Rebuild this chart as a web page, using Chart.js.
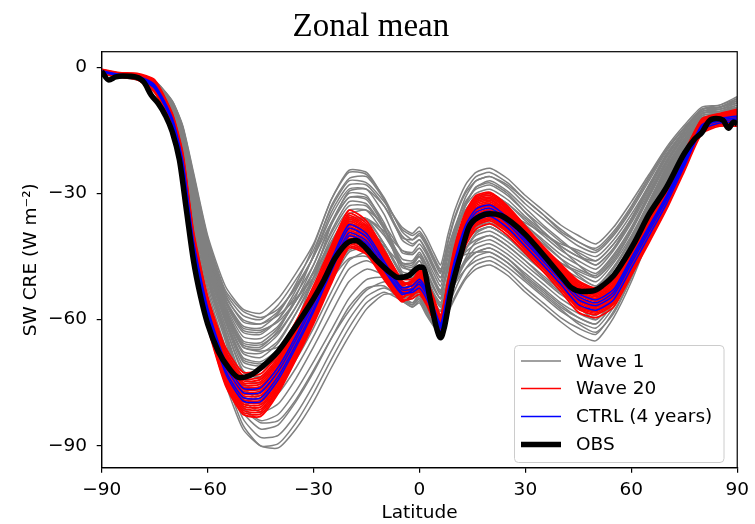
<!DOCTYPE html>
<html><head><meta charset="utf-8">
<script src="https://cdn.jsdelivr.net/npm/chart.js@4/dist/chart.umd.min.js"></script>
<style>html,body{margin:0;padding:0;background:#fff;}#wrap{width:755px;height:524px;}</style>
</head><body><div id="wrap"><canvas id="c" width="755" height="524"></canvas></div>
<script>
// ---------- data ----------
const lat = [-90,-85,-80,-75,-70,-67,-64,-60,-55,-50,-45,-40,-35,-30,-25,-20,-15,-10,-5,-2,0,2,4,6,8,10,13,16,20,25,30,35,40,45,50,55,60,65,70,75,80,85,90];

const wave1 = [
[-1.0,-1.8,-2.0,-3.2,-8,-14,-25,-40,-52,-57.5,-58.5,-55,-49,-42,-31.5,-25,-25.5,-31,-39,-41,-40,-42.5,-46,-49,-42,-36,-30,-27,-26,-28.5,-32.5,-36,-39.5,-42.5,-44,-40,-34,-27,-20,-14.5,-10,-9.5,-8],
[-1.0,-1.8,-2.1,-3.3,-8.2,-14.5,-26,-41,-53.5,-59,-60,-56.5,-50.5,-43.5,-33.5,-27,-27.5,-32,-38,-39.5,-38,-40.5,-44,-47,-40,-34,-28,-25,-24,-26.5,-30.5,-34,-37.5,-40,-42,-38,-32,-25.5,-19,-13.8,-9.5,-9,-7],
[-1.0,-1.8,-2.1,-3.3,-8.4,-14.7,-26.5,-41.7,-54,-60.5,-61,-58,-52,-45,-35.5,-29,-29,-35,-44,-44.5,-43,-45.5,-49,-52,-45.5,-40,-34,-31,-30,-32.5,-36.5,-40,-43.5,-46,-48,-43.5,-37,-29.5,-22,-16,-11,-10.5,-9],
[-1.1,-1.9,-2.2,-3.4,-8.5,-15,-27,-42.5,-55,-61.5,-62,-58.5,-51.5,-42.5,-31.5,-24.5,-25,-31.5,-41,-42.5,-41,-43.5,-47,-50,-43.5,-38,-32,-29,-28,-30.5,-34.5,-38,-41.5,-44,-46,-42,-36,-28.5,-21,-15.3,-10.5,-10,-8.5],
[-1.1,-1.9,-2.2,-3.5,-8.6,-15.2,-27.5,-43,-55.5,-62.5,-63,-60,-54,-47,-37.5,-31,-31,-37,-46.5,-47,-45,-47.5,-51,-54,-48,-43,-37,-34,-33,-35.5,-39.5,-43,-46.5,-49,-51,-46.5,-40,-32,-23.5,-17,-11.5,-11,-10],
[-1.2,-1.9,-2.3,-3.5,-8.7,-15.5,-28,-43.5,-56,-63,-63.5,-60,-53,-45,-34.5,-28,-28,-33,-40.5,-41,-39.5,-42,-45.5,-48.5,-41.5,-35.5,-29.5,-26,-25,-27.5,-31.5,-35,-39,-41.5,-43.5,-39.5,-33.5,-26.5,-19.5,-14.3,-10,-9.5,-7.5],
[-1.2,-1.9,-2.3,-3.6,-8.8,-15.6,-28.5,-44,-56.5,-64,-64.5,-61.5,-55.5,-48.5,-39.5,-33,-33,-38.5,-45.5,-46,-44,-47,-50.5,-53,-47.5,-43,-38.5,-36,-35,-37.5,-41.5,-45,-48.5,-51,-53,-48,-41,-32.5,-24,-17.5,-12,-11.5,-10.5],
[-1.2,-1.9,-2.3,-3.6,-9,-16,-29,-44.5,-57,-65,-65.5,-62,-55.5,-47,-37,-30,-30.5,-38,-48.5,-49,-47,-50,-53.5,-56,-50.5,-46,-41.5,-39,-38,-40.5,-44,-47.5,-51,-53.5,-55,-50,-43,-34,-25.5,-18.5,-12.5,-12,-11],
[-1.2,-2,-2.3,-3.7,-9.1,-16.2,-29.5,-45,-57.5,-65.5,-66,-63,-57,-50,-41.5,-35,-34,-37.5,-43.5,-44,-42,-44.5,-48,-51,-44.5,-39,-33,-30,-29,-31.5,-35.5,-39,-42.5,-45,-47,-43,-36.5,-29,-21.5,-15.5,-10.5,-10,-9],
[-1.2,-2,-2.4,-3.7,-9.2,-16.4,-30,-45.5,-58,-66.5,-67,-63.5,-57,-48.5,-39,-32,-32.5,-38.5,-47.5,-48,-46,-49,-52.5,-55,-51,-47.5,-44,-42,-41,-43.5,-47,-50.5,-54,-56.5,-58,-53,-45,-36,-26.5,-19,-13,-12.5,-11.5],
[-1.3,-2,-2.4,-3.8,-9.3,-16.6,-30.5,-46,-58.5,-67.5,-68,-65,-58.5,-51,-42,-36,-36,-42,-49.5,-50,-48,-51,-54.5,-57,-51,-46,-40,-37,-36,-38.5,-42.5,-46,-49.5,-52,-54,-49.5,-42,-33.5,-25,-18,-12,-11.5,-10],
[-1.3,-2,-2.4,-3.8,-9.4,-16.8,-31,-46.5,-59,-68,-69,-65.5,-58.5,-50,-40.5,-34,-34,-39.5,-46.5,-46.5,-44.5,-47,-50.5,-53.5,-47,-41.5,-35.5,-32,-31,-33.5,-37.5,-41,-44.5,-47,-49,-44.5,-38,-30,-22.5,-16.5,-11,-10.5,-9.5],
[-1.3,-2,-2.5,-3.9,-9.6,-17,-31.5,-47,-59.5,-69,-70,-67,-60.5,-53,-44,-38,-37.5,-43,-51,-51,-49,-52,-55.5,-58,-53.5,-50,-46,-44,-43,-45.5,-49,-52.5,-56,-58.5,-60,-55,-47,-37.5,-27.5,-20,-13.5,-13,-12],
[-1.3,-2.1,-2.5,-4,-9.7,-17.2,-32,-47.5,-60,-70,-71,-68,-61.5,-53.5,-44,-37,-36.5,-42,-49.5,-49.5,-47.5,-50.5,-54,-56.5,-50,-44.5,-38.5,-35,-34,-36.5,-40.5,-44,-47.5,-50,-52,-47.5,-40.5,-32,-24,-17.3,-11.5,-11,-10],
[-1.3,-2.1,-2.5,-4,-9.8,-17.5,-32.5,-48,-60.5,-71,-72,-69,-63,-55.5,-46.5,-40,-39.5,-45,-52,-52,-50,-53,-56.5,-59,-55,-51.5,-48,-46,-45,-47.5,-51,-54.5,-58,-60.5,-62,-57,-49,-39,-29,-21,-14,-13.5,-13],
[-1.4,-2.1,-2.5,-4.1,-10,-17.8,-33,-49,-61.5,-72.5,-73.5,-70.5,-64,-55.5,-46,-39,-39,-45.5,-53,-53,-51,-54,-57.5,-60,-54.5,-49.5,-43.5,-40,-39,-41.5,-45,-48.5,-52,-54.5,-56.5,-51.5,-44,-35,-26,-18.5,-12.5,-12,-11],
[-1.4,-2.1,-2.6,-4.2,-10.2,-18.2,-33.5,-49.5,-62.5,-74,-75,-72,-65.5,-58,-49,-42,-41.5,-47.5,-54.5,-54.5,-52.5,-55.5,-58.5,-61,-54.5,-48.5,-42,-38,-37,-39,-41.5,-44,-46.5,-48.5,-50,-45.5,-39,-31,-23,-16.5,-11,-10.5,-10],
[-1.4,-2.2,-2.6,-4.2,-10.4,-18.5,-34,-50,-63,-75.5,-76.5,-73.5,-67,-59.5,-51,-44,-43,-46,-51,-51,-49,-52,-55.5,-58,-50.5,-44,-37.5,-34,-33,-35,-37,-39.5,-42,-43.5,-45,-41,-35,-28,-20.5,-15,-10,-9.5,-8.5],
[-1.4,-2.2,-2.7,-4.3,-10.6,-18.8,-34.5,-51,-64,-76.5,-78,-75.5,-69.5,-62,-53.5,-46,-44,-47,-53.5,-54.5,-53,-56,-59,-61.5,-56,-51,-46,-43,-42,-44.5,-48,-51.5,-55,-57.5,-59,-54,-46,-36.5,-27,-19.5,-13,-12.5,-11.5],
[-1.5,-2.2,-2.7,-4.4,-10.8,-19.2,-35,-52,-65,-78,-80,-77.5,-71.5,-64,-55.5,-48,-46,-48.5,-55,-56,-54,-57,-60,-62,-58.5,-55,-50.5,-48,-47,-49.5,-53.5,-57,-60.5,-63.5,-65,-59.5,-51,-40.5,-30,-21.5,-14,-13.5,-13],
[-1.5,-2.3,-2.8,-4.5,-11,-19.6,-36,-53,-66.5,-79,-82,-80,-74,-66.5,-58.5,-51,-48,-49.5,-55,-56.5,-55,-58,-61,-62.5,-57.5,-53,-48,-45,-44,-46.5,-50,-53.5,-57,-59.5,-61,-56,-48,-38,-28,-20.5,-13.5,-13,-12.5],
[-1.5,-2.3,-2.8,-4.6,-11.2,-20,-37,-54.5,-68,-80.5,-84,-82.5,-77,-70,-62.5,-55,-50.5,-50,-53.5,-55,-53.5,-56.5,-59,-61,-54.5,-48.5,-42,-38,-36.5,-39,-42.5,-46,-49.5,-52,-53.5,-49,-41.5,-33,-24.5,-17.5,-12,-11.5,-10.5],
[-1.6,-2.3,-2.9,-4.7,-11.5,-20.5,-38,-56,-70,-82,-86,-85,-79.5,-72.5,-64.5,-57,-52.5,-52,-55.5,-57,-56,-59,-61.5,-63,-57,-51.5,-45.5,-41.5,-40,-42.5,-46,-49.5,-53,-55.5,-57,-52,-44.5,-35,-26,-18.5,-12.5,-12,-11],
[-1.6,-2.4,-2.9,-4.8,-11.8,-21,-39,-57,-72,-83.5,-88,-87.5,-82.5,-75.5,-67.5,-60,-54.5,-52.5,-54.5,-56,-54.5,-57.5,-60,-62,-53,-45.5,-38.5,-34,-32,-35,-38.5,-42,-45.5,-48,-49.5,-45,-38.5,-30.5,-22.5,-16,-11,-10.5,-9.5],
[-1.6,-2.4,-3,-4.9,-12,-21.5,-40,-58,-73.5,-85,-90,-89.5,-84.5,-77.5,-69.5,-62,-56,-53.5,-55.5,-57,-55.5,-58.5,-61.5,-63,-58.5,-54.5,-50,-47,-46,-48.5,-52.5,-56,-59.5,-62,-63.5,-58,-50,-40,-29.5,-21.5,-14,-13.5,-12.5],
[-1.6,-2.4,-3,-5,-12.2,-22,-41,-59,-75,-86,-90,-90.5,-86,-79.5,-71.5,-64,-57.5,-54,-54,-54,-52,-55,-58,-60,-54.5,-49.5,-43.5,-39.5,-38,-40.5,-44,-47.5,-51,-53.5,-55,-50.5,-43,-34,-25,-18,-12,-11.5,-10.5],
[-1.1,-1.9,-2.2,-3.4,-8.5,-15,-27,-42,-54.5,-60,-61,-59,-55,-50,-44,-40,-39,-42,-49,-51,-50,-53,-56,-58,-50,-41,-33,-28.5,-27,-29.5,-33.5,-37.5,-41,-44.5,-47,-43,-36,-28,-21,-15,-10.5,-9.5,-8],
[-1.3,-2.1,-2.5,-4,-9.8,-17.6,-32.5,-48.5,-61.5,-72,-74,-70,-61,-50,-37.5,-29.5,-29,-33,-40,-42,-41,-44,-47.5,-50,-47,-45.5,-44.5,-44,-44,-46.5,-50.5,-54,-57.5,-61,-63,-58.5,-50,-40,-29.5,-21,-13.5,-13,-12.5],
[-1.4,-2.2,-2.7,-4.3,-10.5,-18.7,-34.5,-50.5,-64,-76,-79,-76.5,-69,-58.5,-46,-37.5,-36,-40,-46.5,-46.5,-45,-48.5,-52,-55,-47.5,-40,-32.5,-28.5,-27.5,-30,-34.5,-39,-43,-47,-50,-46,-39,-30.5,-22.5,-16,-11,-10,-8.5],
[-1.0,-1.8,-2.1,-3.3,-8.1,-14.3,-25.5,-40.5,-53,-58,-59.5,-57.5,-52.5,-45,-37,-31,-31.5,-38,-47,-48.5,-47,-50,-54,-57,-52,-47,-43,-41,-40,-42.5,-46,-50,-53.5,-56.5,-58,-53.5,-46,-36.5,-27,-19.5,-13,-12,-11],
[-1.2,-2,-2.3,-3.7,-9.1,-16.3,-29.8,-45.3,-57.8,-66,-66.5,-62.5,-54.5,-44.5,-33,-26.5,-26,-31.5,-38.5,-40,-39,-41.5,-45,-48,-43,-38.5,-34,-32,-31,-33.5,-37.5,-41.5,-45.5,-49.5,-52,-47.5,-41,-32.5,-24,-17.5,-11.5,-11,-9.5],
[-1.3,-2,-2.5,-3.9,-9.6,-17.1,-31.8,-47.3,-59.8,-69.5,-70.5,-68.5,-63.5,-57,-49.5,-43.5,-42.5,-46.5,-53,-54.5,-53,-56,-59.5,-62,-55,-48,-41,-37.5,-36,-38.5,-42.5,-46.5,-50,-53,-55,-50.5,-42,-33,-25,-18,-12,-11.5,-10.5],
[-1.1,-1.9,-2.2,-3.5,-8.6,-15.1,-27.3,-42.8,-55.3,-62,-62.5,-60.5,-55.5,-49,-41.5,-36.5,-36,-39,-43.5,-44.5,-43,-46,-50,-53,-48.5,-44,-40.5,-39,-38,-40.5,-44.5,-48.5,-52.5,-57,-60,-55.5,-48,-38,-28,-20,-13.5,-12.5,-11.5],
[-1.5,-2.3,-2.8,-4.6,-11.3,-20.2,-37.5,-55,-69,-81,-84.5,-84,-79,-72,-64.5,-58,-53,-51,-51.5,-51.5,-50,-53,-56,-58,-50.5,-42.5,-35.5,-31.5,-30,-32.5,-36,-39.5,-42.5,-45,-46,-42,-36,-28.5,-21,-15,-10,-9.5,-8],
[-1.3,-2,-2.4,-3.8,-9.3,-16.5,-30.3,-45.8,-58.3,-66.5,-67.5,-66.5,-62.5,-57,-50.5,-45.5,-45,-49,-55,-56.5,-55,-58,-61,-63,-57,-51.5,-46.5,-44,-43,-45.5,-49.5,-53,-56.5,-59.5,-61,-56,-49,-39,-29,-21,-14,-13.5,-12.5],
[-1.4,-2.2,-2.6,-4.3,-10.5,-18.6,-34.3,-50.3,-63.3,-75,-77,-74,-67,-58,-48.5,-41.5,-40,-42.5,-47,-47.5,-46,-49,-52.5,-55,-47,-39,-31,-27,-26,-28,-31.5,-35,-38.5,-41.5,-43,-39,-33,-26,-19.5,-14.5,-10,-9,-7.5]
];

const wave20 = [
[-0.5,-1.3,-1.45,-3.0,-11.0,-20.5,-39,-54.5,-66.5,-72.5,-72.0,-67.5,-60.5,-52.0,-42.5,-34.0,-36.5,-43.5,-50.3,-50.3,-49.2,-51.7,-55.9,-60.0,-52.2,-44.1,-36.1,-32.1,-31.3,-34.4,-39.1,-43.7,-48.1,-52.3,-53.9,-51.4,-43.9,-36.6,-29.4,-21.2,-13.0,-11.6,-10.8],
[-0.65,-1.45,-1.7,-3.45,-11.45,-21.25,-39.9,-55.55,-67.85,-74.0,-73.65,-69.0,-61.85,-53.35,-43.85,-35.35,-37.7,-44.55,-51.1,-51.8,-51.6,-54.1,-58.05,-62.0,-54.6,-47.3,-39.3,-35.3,-34.25,-37.2,-41.65,-46.1,-50.65,-55.25,-56.7,-54.2,-46.7,-39.15,-31.55,-22.95,-14.35,-12.8,-12.4],
[-0.75,-1.55,-1.8,-3.75,-11.75,-21.75,-40.5,-56.25,-68.75,-75,-74.75,-70,-62.75,-54.25,-44.75,-36.25,-38.5,-45.25,-51.6,-50.6,-48.3,-50.8,-55.0,-59.25,-51.3,-42.9,-34.9,-30.9,-30.1,-33.35,-38.1,-42.8,-47.1,-51.1,-52.85,-50.35,-42.85,-35.6,-28.5,-20.5,-12.4,-11.15,-10.2],
[-0.85,-1.65,-1.95,-4.05,-12.05,-22.25,-41.1,-56.95,-69.65,-76,-75.85,-71,-63.65,-55.15,-45.65,-37.15,-39.3,-45.95,-52.2,-52.9,-52.8,-55.3,-59.15,-63.0,-55.8,-48.9,-40.9,-36.9,-35.75,-38.6,-42.95,-47.3,-51.95,-56.75,-58.1,-55.6,-48.1,-40.45,-32.65,-23.85,-15.05,-13.4,-13.2],
[-0.9,-1.7,-2.05,-4.2,-12.2,-22.5,-41.4,-57.3,-70.1,-76.5,-76.4,-71.5,-64.1,-55.6,-46.1,-37.6,-39.7,-46.3,-52.45,-51.8,-50.1,-52.6,-56.7,-60.75,-53.1,-45.3,-37.3,-33.3,-32.4,-35.45,-40.0,-44.6,-49.0,-53.4,-54.95,-52.45,-44.95,-37.5,-30.2,-21.8,-13.5,-12.05,-11.4],
[-0.95,-1.75,-2.1,-4.35,-12.35,-22.75,-41.7,-57.65,-70.55,-77,-76.95,-72,-64.55,-56.05,-46.55,-38.05,-40.1,-46.65,-52.7,-52.9,-52.2,-54.7,-58.6,-62.5,-55.2,-48.1,-40.1,-36.1,-35.0,-37.9,-42.3,-46.7,-51.3,-56.0,-57.4,-54.9,-47.4,-39.8,-32.1,-23.4,-14.7,-13.1,-12.8],
[-1.0,-1.8,-2.2,-4.5,-12.5,-23,-42,-58,-71,-77.5,-77.5,-72.5,-65,-56.5,-47,-38.5,-40.5,-47,-53,-51.1,-48,-50.5,-54.75,-59,-51,-42.5,-34.5,-30.5,-29.75,-33,-37.75,-42.5,-46.75,-50.75,-52.5,-50,-42.5,-35.25,-28.25,-20.25,-12.25,-11,-10],
[-1.05,-1.85,-2.3,-4.65,-12.65,-23.25,-42.3,-58.35,-71.45,-78,-78.05,-73,-65.45,-56.95,-47.45,-38.95,-40.9,-47.35,-53.3,-52.5,-50.7,-53.2,-57.2,-61.25,-53.7,-46.1,-38.1,-34.1,-33.1,-36.15,-40.7,-45.2,-49.7,-54.1,-55.65,-53.15,-45.65,-38.2,-30.7,-22.3,-13.8,-12.35,-11.8],
[-1.15,-1.95,-2.4,-4.95,-12.95,-23.75,-42.9,-59.05,-72.35,-79,-79.15,-74,-66.35,-57.85,-48.35,-39.85,-41.7,-48.05,-53.8,-54.0,-53.4,-55.9,-59.7,-63.5,-56.4,-49.7,-41.7,-37.7,-36.5,-39.3,-43.6,-47.9,-52.6,-57.5,-58.8,-56.3,-48.8,-41.1,-33.2,-24.3,-15.4,-13.7,-13.6],
[-1.2,-2.0,-2.5,-5.1,-13.1,-24,-43.2,-59.4,-72.8,-79.5,-79.7,-74.5,-66.8,-58.3,-48.8,-40.3,-42.1,-48.4,-54.1,-52.4,-49.5,-52.0,-56.1,-60.25,-52.5,-44.5,-36.5,-32.5,-31.6,-34.75,-39.4,-44.0,-48.4,-52.6,-54.25,-51.75,-44.25,-36.9,-29.6,-21.4,-13.1,-11.75,-11],
[-1.25,-2.05,-2.6,-5.25,-13.25,-24.25,-43.5,-59.75,-73.25,-80,-80.25,-75,-67.25,-58.75,-49.25,-40.75,-42.5,-48.75,-54.4,-53.6,-51.9,-54.4,-58.3,-62.25,-54.9,-47.7,-39.7,-35.7,-34.6,-37.55,-41.95,-46.4,-50.95,-55.6,-57.05,-54.55,-47.05,-39.5,-31.8,-23.2,-14.5,-12.95,-12.6],
[-1.35,-2.15,-2.75,-5.55,-13.55,-24.75,-44.1,-60.45,-74.15,-81,-81.35,-76,-68.15,-59.65,-50.15,-41.65,-43.3,-49.45,-54.9,-52.5,-48.9,-51.4,-55.6,-59.75,-51.9,-43.7,-35.7,-31.7,-30.9,-34.05,-38.7,-43.4,-47.7,-51.9,-53.55,-51.05,-43.55,-36.2,-29.1,-20.9,-12.8,-11.45,-10.6],
[-1.45,-2.25,-2.9,-5.85,-13.85,-25.25,-44.7,-61.15,-75.05,-82,-82.45,-77,-69.05,-60.55,-51.05,-42.55,-44.1,-50.15,-55.5,-54.4,-52.5,-55.0,-58.9,-62.75,-55.5,-48.5,-40.5,-36.5,-35.4,-38.25,-42.6,-47.0,-51.6,-56.4,-57.75,-55.25,-47.75,-40.1,-32.4,-23.6,-14.9,-13.25,-13],
[-1.5,-2.3,-2.95,-6.0,-14.0,-25.5,-45,-61.5,-75.5,-82.5,-83,-77.5,-69.5,-61,-51.5,-43,-44.5,-50.5,-55.75,-54.0,-51.3,-53.8,-57.8,-61.75,-54.3,-46.9,-38.9,-34.9,-33.9,-36.85,-41.3,-45.8,-50.3,-54.9,-56.35,-53.85,-46.35,-38.8,-31.3,-22.7,-14.2,-12.65,-12.2],
[-0.58,-1.38,-1.57,-3.24,-11.24,-20.9,-39.48,-55.06,-67.22,-73.3,-72.88,-68.3,-61.22,-52.72,-43.22,-34.72,-37.14,-44.06,-50.69,-52.3,-53.1,-55.6,-59.4,-63.25,-56.1,-49.3,-41.3,-37.3,-36.1,-38.95,-43.3,-47.6,-52.3,-57.1,-58.45,-55.95,-48.45,-40.8,-32.9,-24.1,-15.2,-13.55,-13.4],
[-0.7,-1.5,-1.75,-3.6,-11.6,-21.5,-40.2,-55.9,-68.3,-74.5,-74.2,-69.5,-62.3,-53.8,-44.3,-35.8,-38.1,-44.9,-51.35,-51.1,-49.8,-52.3,-56.4,-60.5,-52.8,-44.9,-36.9,-32.9,-32.0,-35.1,-39.7,-44.3,-48.7,-53.0,-54.6,-52.1,-44.6,-37.2,-29.9,-21.6,-13.3,-11.9,-11.2],
[-0.8,-1.6,-1.9,-3.9,-11.9,-22,-40.8,-56.6,-69.2,-75.5,-75.3,-70.5,-63.2,-54.7,-45.2,-36.7,-38.9,-45.6,-51.9,-50.85,-48.6,-51.1,-55.3,-59.5,-51.6,-43.3,-35.3,-31.3,-30.5,-33.7,-38.4,-43.1,-47.4,-51.5,-53.2,-50.7,-43.2,-35.9,-28.8,-20.7,-12.6,-11.3,-10.4],
[-1.1,-1.9,-2.35,-4.8,-12.8,-23.5,-42.6,-58.7,-71.9,-78.5,-78.6,-73.5,-65.9,-57.4,-47.9,-39.4,-41.3,-47.7,-53.55,-52.8,-51,-53.5,-57.5,-61.5,-54,-46.5,-38.5,-34.5,-33.5,-36.5,-41,-45.5,-50,-54.5,-56,-53.5,-46,-38.5,-31,-22.5,-14,-12.5,-12],
[-1.3,-2.1,-2.65,-5.4,-13.4,-24.5,-43.8,-60.1,-73.7,-80.5,-80.8,-75.5,-67.7,-59.2,-49.7,-41.2,-42.9,-49.1,-54.65,-53.05,-50.4,-52.9,-56.95,-61,-53.4,-45.7,-37.7,-33.7,-32.75,-35.8,-40.35,-44.9,-49.35,-53.75,-55.3,-52.8,-45.3,-37.85,-30.45,-22.05,-13.65,-12.2,-11.6],
[-1.4,-2.2,-2.8,-5.7,-13.7,-25,-44.4,-60.8,-74.6,-81.5,-81.9,-76.5,-68.6,-60.1,-50.6,-42.1,-43.7,-49.8,-55.2,-54.98,-54,-56.5,-60.25,-64,-57,-50.5,-42.5,-38.5,-37.25,-40,-44.25,-48.5,-53.25,-58.25,-59.5,-57,-49.5,-41.75,-33.75,-24.75,-15.75,-14,-14]
];

const ctrl = [
[-0.88,-1.68,-2.02,-4.14,-12.14,-22.4,-41.28,-57.16,-69.92,-76.3,-76.18,-71.3,-63.92,-55.42,-45.92,-37.42,-39.54,-46.16,-52.34,-51.9,-50.4,-52.9,-56.95,-61,-53.4,-45.7,-37.7,-33.7,-32.75,-35.8,-40.35,-44.9,-49.35,-53.75,-55.3,-52.8,-45.3,-37.85,-30.45,-22.05,-13.65,-12.2,-11.6],
[-0.98,-1.78,-2.17,-4.44,-12.44,-22.9,-41.88,-57.86,-70.82,-77.3,-77.28,-72.3,-64.82,-56.32,-46.82,-38.32,-40.34,-46.86,-52.89,-52.7,-51.6,-54.1,-58.05,-62,-54.6,-47.3,-39.3,-35.3,-34.25,-37.2,-41.65,-46.1,-50.65,-55.25,-56.7,-54.2,-46.7,-39.15,-31.55,-22.95,-14.35,-12.8,-12.4],
[-1.1,-1.9,-2.35,-4.8,-12.8,-23.5,-42.6,-58.7,-71.9,-78.5,-78.6,-73.5,-65.9,-57.4,-47.9,-39.4,-41.3,-47.7,-53.55,-53.5,-52.5,-55,-58.9,-62.75,-55.5,-48.5,-40.5,-36.5,-35.4,-38.25,-42.6,-47,-51.6,-56.4,-57.75,-55.25,-47.75,-40.1,-32.4,-23.6,-14.9,-13.25,-13],
[-1.18,-1.98,-2.47,-5.04,-13.04,-23.9,-43.08,-59.26,-72.62,-79.3,-79.48,-74.3,-66.62,-58.12,-48.62,-40.12,-41.94,-48.26,-53.99,-53.0,-51,-53.5,-57.5,-61.5,-54,-46.5,-38.5,-34.5,-33.5,-36.5,-41,-45.5,-50,-54.5,-56,-53.5,-46,-38.5,-31,-22.5,-14,-12.5,-12]
];

const obsLat = [-90,-88,-86,-84,-80,-78,-76,-74,-72,-70,-68,-66,-64,-62,-60,-57,-54,-51,-48,-45,-40,-35,-30,-27,-24,-20,-18,-16,-12,-8,-6,-3,-1,0,1,3,5,6,7,9,12,14,17,20,23,26,30,35,40,43,46,49,52,55,58,61,65,70,75,78,80,82,84,86,87.5,89,90];
const obs = [-1.0,-3.0,-2.3,-2.1,-2.4,-3.6,-6.6,-8.6,-11.4,-15.4,-22,-34,-46,-54.5,-61,-67.5,-71.5,-73.8,-73.3,-71.5,-67.5,-61.5,-55,-50.5,-45.5,-41.5,-41.2,-42.3,-46,-49,-50,-49.5,-48,-47.5,-47.6,-55,-62.5,-64.3,-62,-53,-43.6,-38,-35.5,-34.8,-35.2,-36.8,-39.8,-44.5,-49.5,-52.4,-53.3,-53.2,-51.8,-49.5,-45.8,-41.5,-35,-28.5,-20.5,-17,-15.5,-12.8,-12.2,-12.6,-14.5,-13,-13.5];

const xTicks = [-90,-60,-30,0,30,60,90];
const yTicks = [-90,-60,-30,0];
const legendLabels = ['Wave 1','Wave 20','CTRL (4 years)','OBS'];
const titleText = 'Zonal mean';
const xTitle = 'Latitude';
const yTitle = 'SW CRE (W m\u207B\u00B2)';

// ---------- build ----------
const pts = (xs, ys) => xs.map((x, i) => ({x: x, y: ys[i]}));
const datasets = [];
const ens = {cubicInterpolationMode: 'default', tension: 0.2};
wave1.forEach(v => datasets.push(Object.assign({data: pts(lat, v), borderColor: '#808080', borderWidth: 1.5, order: 4}, ens)));
wave20.forEach(v => datasets.push(Object.assign({data: pts(lat, v), borderColor: '#ff0000', borderWidth: 1.8, order: 3}, ens)));
ctrl.forEach(v => datasets.push(Object.assign({data: pts(lat, v), borderColor: '#0000ff', borderWidth: 1.5, order: 2}, ens)));
datasets.push({data: pts(obsLat, obs), borderColor: '#000000', borderWidth: 5.5, order: 1, cubicInterpolationMode: 'monotone'});

const fmt = v => (v < 0 ? '\u2212' + Math.abs(v) : String(v));
const F = 'DejaVu Sans';

const framePlugin = {
  id: 'frame',
  afterDatasetsDraw(chart) {
    const a = chart.chartArea, ctx = chart.ctx;
    ctx.save();
    ctx.strokeStyle = '#000'; ctx.lineWidth = 1.2;
    ctx.strokeRect(a.left, a.top, a.right - a.left, a.bottom - a.top);
    ctx.restore();
  }
};

const legendPlugin = {
  id: 'boxlegend',
  afterDraw(chart) {
    const ctx = chart.ctx;
    const x0 = 514.5, y0 = 345.5, w = 209.5, h = 117, r = 4;
    ctx.save();
    ctx.beginPath();
    ctx.moveTo(x0 + r, y0); ctx.lineTo(x0 + w - r, y0); ctx.quadraticCurveTo(x0 + w, y0, x0 + w, y0 + r);
    ctx.lineTo(x0 + w, y0 + h - r); ctx.quadraticCurveTo(x0 + w, y0 + h, x0 + w - r, y0 + h);
    ctx.lineTo(x0 + r, y0 + h); ctx.quadraticCurveTo(x0, y0 + h, x0, y0 + h - r);
    ctx.lineTo(x0, y0 + r); ctx.quadraticCurveTo(x0, y0, x0 + r, y0); ctx.closePath();
    ctx.fillStyle = 'rgba(255,255,255,0.8)'; ctx.fill();
    ctx.strokeStyle = '#cccccc'; ctx.lineWidth = 1; ctx.stroke();
    const cols = ['#808080', '#ff0000', '#0000ff', '#000000'];
    const lws = [1.5, 1.5, 1.5, 5.5];
    const ys = [361, 388.5, 416.5, 444.5];
    ctx.font = '18.5px "' + F + '"';
    ctx.textBaseline = 'middle'; ctx.textAlign = 'left'; ctx.fillStyle = '#000';
    legendLabels.forEach((lab, i) => {
      ctx.beginPath(); ctx.strokeStyle = cols[i]; ctx.lineWidth = lws[i];
      ctx.moveTo(521, ys[i]); ctx.lineTo(561, ys[i]); ctx.stroke();
      ctx.fillText(lab, 576, ys[i] + 1);
    });
    ctx.restore();
  }
};

new Chart(document.getElementById('c'), {
  type: 'line',
  data: {datasets: datasets},
  options: {
    responsive: false, animation: false, devicePixelRatio: 1,
    layout: {padding: {left: 0, right: 13.3, top: 0, bottom: 0}},
    elements: {point: {radius: 0}, line: {borderJoinStyle: 'round', borderCapStyle: 'butt'}},
    datasets: {line: {clip: 0, fill: false}},
    plugins: {
      legend: {display: false}, tooltip: {enabled: false},
      title: {display: true, text: titleText, color: '#000',
        font: {family: 'Liberation Serif', size: 33, weight: 'normal'}, padding: {top: 8, bottom: 4.1}}
    },
    scales: {
      x: {type: 'linear', min: -90, max: 90,
        afterBuildTicks: s => { s.ticks = xTicks.map(v => ({value: v})); },
        afterFit: s => { s.height = 56.3; },
        ticks: {callback: fmt, color: '#000', font: {family: F, size: 18.5}, padding: 6, maxRotation: 0, autoSkip: false},
        grid: {drawOnChartArea: false, drawTicks: true, tickLength: 5, color: '#000', lineWidth: 1.2},
        border: {display: true, color: '#000', width: 1.2},
        title: {display: true, text: xTitle, color: '#000', font: {family: F, size: 18.5}, padding: {top: 0, bottom: 0}}
      },
      y: {type: 'linear', min: -95.2, max: 3.7,
        afterBuildTicks: s => { s.ticks = yTicks.map(v => ({value: v})); },
        afterFit: s => { s.width = 101.7; },
        ticks: {callback: fmt, color: '#000', font: {family: F, size: 18.5}, padding: 9.7, autoSkip: false},
        grid: {drawOnChartArea: false, drawTicks: true, tickLength: 5, color: '#000', lineWidth: 1.2},
        border: {display: true, color: '#000', width: 1.2},
        title: {display: true, text: yTitle, color: '#000', font: {family: F, size: 18.5}, padding: {top: 20, bottom: 0}}
      }
    }
  },
  plugins: [framePlugin, legendPlugin]
});
</script></body></html>
